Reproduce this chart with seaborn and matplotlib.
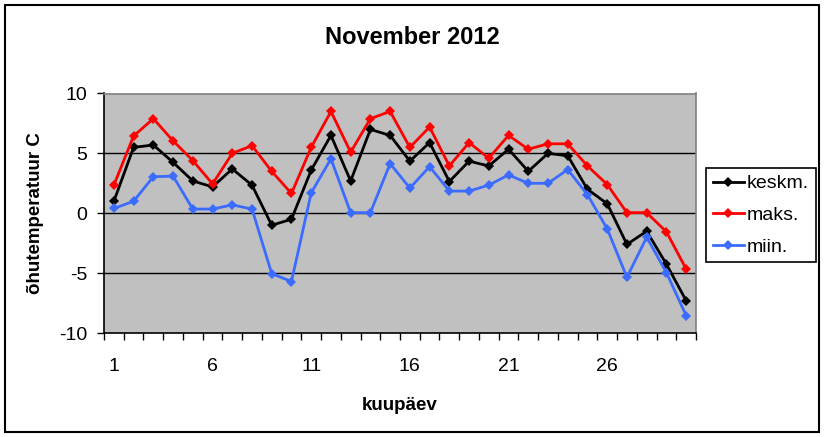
import seaborn as sns
import pandas as pd
import numpy as np
import matplotlib
matplotlib.use('Agg')
import matplotlib.pyplot as plt
from matplotlib.patches import Rectangle

plt.rcParams['font.family'] = ['Liberation Sans', 'DejaVu Sans']
plt.rcParams['axes.unicode_minus'] = False

# Data (November 2012 daily air temperature)
days = list(range(1, 31))
keskm = [1.0, 5.5, 5.7, 4.25, 2.7, 2.2, 3.7, 2.35, -1.0, -0.5,
         3.6, 6.5, 2.7, 7.0, 6.5, 4.35, 5.9, 2.65, 4.35, 3.95,
         5.35, 3.5, 5.0, 4.8, 2.0, 0.8, -2.6, -1.5, -4.25, -7.3]
maks = [2.35, 6.45, 7.9, 6.05, 4.4, 2.45, 5.0, 5.65, 3.5, 1.65,
        5.5, 8.5, 5.1, 7.9, 8.5, 5.5, 7.2, 3.95, 5.9, 4.6,
        6.5, 5.35, 5.8, 5.8, 3.95, 2.4, 0.05, 0.05, -1.55, -4.65]
miin = [0.4, 1.0, 3.05, 3.1, 0.35, 0.35, 0.7, 0.35, -5.05, -5.7,
        1.7, 4.55, 0.05, 0.05, 4.15, 2.1, 3.9, 1.85, 1.85, 2.35,
        3.2, 2.5, 2.5, 3.65, 1.55, -1.3, -5.35, -2.0, -4.95, -8.55]
series_names = ['keskm.', 'maks.', 'miin.']
colors = ['#000000', '#FF0000', '#3B6CFF']
xtick_labels = ['1', '6', '11', '16', '21', '26']

df = pd.DataFrame({
    'kuupäev': days * 3,
    'temp': keskm + maks + miin,
    'seeria': [series_names[0]] * 30 + [series_names[1]] * 30 + [series_names[2]] * 30,
})

fig = plt.figure(figsize=(8.25, 4.37), dpi=100)
ax = fig.add_axes([104 / 825, 1 - 333 / 437, 592 / 825, 239.5 / 437])
ax.set_facecolor('#C0C0C0')

sns.lineplot(data=df, x='kuupäev', y='temp', hue='seeria', style='seeria',
             hue_order=series_names, style_order=series_names,
             palette=colors, markers=['D', 'D', 'D'], dashes=False,
             markersize=5, markeredgewidth=0, linewidth=2, ax=ax)

ax.set_xlim(0.5, 30.5)
ax.set_ylim(-10, 10)

# y axis
ax.set_yticks([-10, -5, 0, 5, 10])
ax.tick_params(axis='y', direction='out', length=5, width=1, pad=7,
               labelsize=14, color='black')
for yv in [-5, 0, 5]:
    ax.axhline(yv, color='black', lw=1, zorder=1)

# x axis: ticks between categories, labels every 5th day
ax.set_xticks(np.arange(0.5, 31, 1))
ax.set_xticklabels([])
ax.tick_params(axis='x', which='major', direction='out', length=5, width=1, color='black')
ax.set_xticks([int(t) for t in xtick_labels], minor=True)
ax.set_xticklabels(xtick_labels, minor=True)
ax.tick_params(axis='x', which='minor', length=0, pad=18, labelsize=14)

for side in ['left', 'bottom']:
    ax.spines[side].set_color('black')
    ax.spines[side].set_linewidth(1.2)
for side in ['top', 'right']:
    ax.spines[side].set_color('#808080')
    ax.spines[side].set_linewidth(1.2)

ax.set_xlabel('kuupäev', fontsize=13.5, fontweight='bold', labelpad=16)
ax.set_ylabel('õhutemperatuur C', fontsize=13.5, fontweight='bold')
ax.yaxis.set_label_coords(-0.102, 0.5)

fig.text(0.5, 1 - 37 / 437, 'November 2012', ha='center', va='center',
         fontsize=17, fontweight='bold')

handles, labels = ax.get_legend_handles_labels()
ax.legend(handles, labels, loc='upper left',
          bbox_to_anchor=(706 / 825, 1 - 258 / 437, 110 / 825, 90 / 437),
          bbox_transform=fig.transFigure, mode='expand',
          frameon=True, fancybox=False, edgecolor='black', framealpha=1,
          fontsize=14, handlelength=1.6, handletextpad=0.15,
          borderpad=0.35, labelspacing=0.72, borderaxespad=0)
ax.get_legend().get_frame().set_linewidth(1.2)

fig.patches.append(Rectangle((5 / 825, 5 / 437), 814 / 825, 427 / 437,
                             transform=fig.transFigure, fill=False,
                             edgecolor='black', linewidth=1.5))

fig.savefig('out.png', dpi=100)
